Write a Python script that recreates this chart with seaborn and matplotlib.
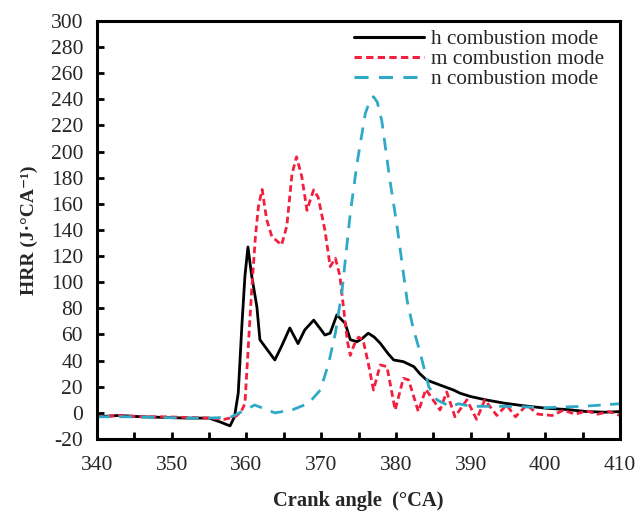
import numpy as np
import pandas as pd
import matplotlib
matplotlib.use("Agg")
import matplotlib.pyplot as plt
import seaborn as sns
from matplotlib.ticker import MultipleLocator

# ---- data ----
h_label = "h combustion mode"
m_label = "m combustion mode"
n_label = "n combustion mode"

h_x = [340, 343, 346, 349, 352, 355, 356.5, 357.8, 358.4, 358.9, 359.4, 359.8, 360.2, 360.7,
       361.4, 361.8, 362.7, 363.8, 364.7, 365.8, 366.9, 367.8, 369, 369.8, 370.5, 371.2,
       372.1, 373.2, 373.9, 374.8, 375.5, 376.3, 377.1, 377.9, 379, 379.7, 381, 382.4,
       383.2, 384.1, 385.9, 387.7, 388.6, 390, 392, 394.4, 397, 400.2, 403, 405.5, 408, 410]
h_y = [-3, -2, -3, -3.5, -4, -4, -7, -10, -3, 15, 68, 105, 127, 105,
       81, 56, 49, 40.5, 51, 65, 53, 63.5, 71, 65, 59.6, 61,
       75, 68.6, 56, 54.5, 57, 61, 58, 53.3, 45, 40.5, 39.2, 35.4,
       30, 25.2, 21.3, 17.5, 15, 12.5, 10, 7.5, 5.5, 3.5, 2.5, 1, 0.5, 1]

m_x = [340, 343, 346, 349, 352, 355, 357, 358.5, 359.3, 359.8, 360.3, 360.7, 361.2, 361.6,
       362.1, 362.7, 363.4, 364.7, 365.4, 366.1, 366.7, 367.4, 368.1, 368.6, 369, 369.6,
       370.5, 371.2, 371.9, 372.5, 373, 373.5, 373.9, 374.4, 375, 375.6, 376.3, 377,
       377.9, 378.8, 379.9, 381, 381.7, 383, 384, 385.9, 386.8, 387.9, 389.5, 390.8,
       391.9, 393.5, 394.8, 396, 397.5, 399, 400.9, 402.4, 404, 405.5, 407, 408.5, 410]
m_y = [-3, -2, -3, -3, -3.5, -4, -5, -3, 1, 7.3, 56, 94, 135, 158,
       171, 148, 135, 128.5, 143, 183, 196, 181, 155, 164, 170.7, 165,
       140, 112, 118.4, 105, 80, 55, 44, 52, 58, 56, 38, 17.5,
       36.7, 35.4, 2.2, 26.5, 25.2, 1, 18, 2.2, 16, -3, 10, -5,
       10, -2, 6, -3, 6, -1, -2, 2, -1, 1.5, -1, 1, -2]

n_x = [340, 344, 348, 352, 355, 357, 358, 359.4, 361.1, 362.5, 363.8, 366.1, 368.3, 369.9,
       371, 371.9, 372.8, 373.9, 374.8, 375.9, 376.5, 377, 377.5, 378.1, 379.2, 380.1,
       381, 381.5, 382.3, 383.2, 384.4, 385.5, 387.3, 388.4, 390, 395, 400, 405, 410]
n_y = [-3, -3, -3.5, -4, -4, -3.5, -3, 1, 6, 3, 0, 2.2, 7.3, 17.5,
       38, 61, 94, 153, 191, 229, 239, 242, 238, 224, 178, 145,
       107, 86, 65, 47, 20, 9.9, 4.7, 7, 5, 5, 4, 5, 7]

x_ticks = [340, 350, 360, 370, 380, 390, 400, 410]
y_ticks = list(range(-20, 301, 20))

df = pd.concat([
    pd.DataFrame({"x": h_x, "y": h_y, "mode": h_label}),
    pd.DataFrame({"x": m_x, "y": m_y, "mode": m_label}),
    pd.DataFrame({"x": n_x, "y": n_y, "mode": n_label}),
], ignore_index=True)

sns.set_theme(style="ticks")
plt.rcParams["font.family"] = ["Liberation Serif", "DejaVu Serif"]
plt.rcParams["axes.unicode_minus"] = False

fig = plt.figure(figsize=(6.36, 5.12), dpi=100)
ax = fig.add_axes([0.1525, 0.1426, 0.8225, 0.8164])

palette = {h_label: "#000000", m_label: "#f2203e", n_label: "#2fa9c6"}
dashes = {h_label: "", m_label: (2.4, 1.4), n_label: (4.6, 3.4)}

sns.lineplot(data=df, x="x", y="y", hue="mode", style="mode", palette=palette,
             dashes=dashes, sort=False, estimator=None, linewidth=2.0, ax=ax)
for line in ax.get_lines():
    line.set_linewidth(2.0)
    line.set_solid_joinstyle("round")
    line.set_dash_joinstyle("round")

ax.set_xlim(340, 410)
ax.set_ylim(-20, 300)
ax.set_xticks(x_ticks)
ax.set_yticks(y_ticks)
ax.xaxis.set_minor_locator(MultipleLocator(5))
ax.tick_params(axis="both", which="both", direction="in", labelsize=15.5, width=2, color="black")
ax.tick_params(axis="both", which="major", length=5)
ax.tick_params(axis="x", which="minor", length=5)
ax.tick_params(axis="x", which="major", pad=12)
ax.tick_params(axis="y", which="major", pad=10)
for s in ax.spines.values():
    s.set_linewidth(2.2)
    s.set_color("black")

ax.set_xlabel("Crank angle  (°CA)", fontsize=14.8, fontweight="bold", labelpad=12)
ax.set_ylabel("HRR (J·°CA⁻¹)", fontsize=14, fontweight="bold", labelpad=9)

handles, labels = ax.get_legend_handles_labels()
leg = ax.legend(handles, labels, loc="upper right", frameon=False, fontsize=15.3,
                handlelength=3.3, handletextpad=0.35, labelspacing=0.0,
                borderaxespad=0.0, bbox_to_anchor=(0.986, 1.0))
for lh in leg.get_lines():
    lh.set_linewidth(2.2)

fig.savefig("out.png", dpi=100)
